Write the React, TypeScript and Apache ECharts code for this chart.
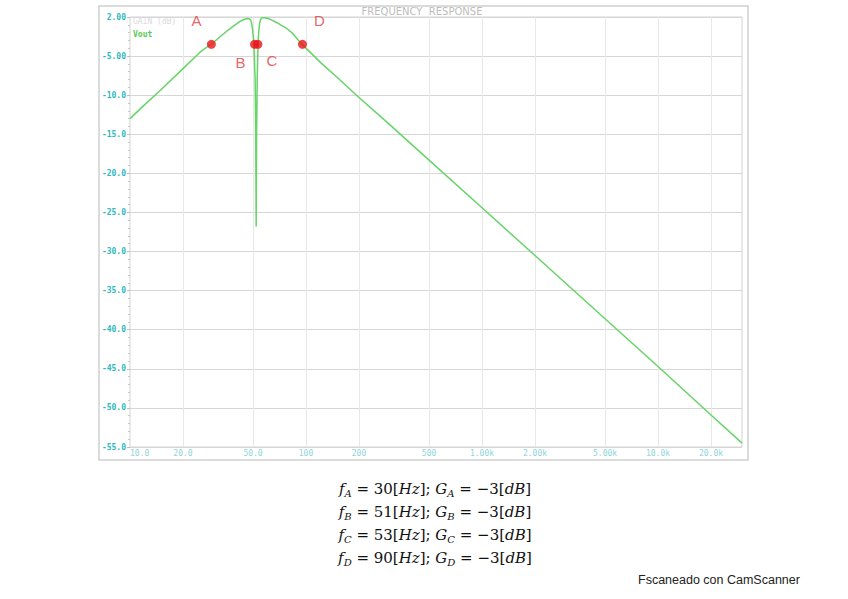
import React, { useEffect, useRef } from "react";
import * as echarts from "echarts";

// ---- data ----
const freqHz = [10, 12, 15, 20, 25, 30, 33, 36, 39, 42, 44, 46, 47.5, 48.5, 49.2, 49.8, 50.6, 51.4, 51.8, 52.1, 52.4, 52.8, 53.4, 53.9, 54.5, 55.2, 56.5, 58.5, 61, 64, 68, 73, 78, 84, 90, 95, 122, 150, 200, 300, 500, 1000, 2000, 5000, 10000, 20000, 30000];
const gainDb = [-13.0, -11.3, -9.3, -6.6, -4.5, -3.2, -2.4, -1.7, -1.1, -0.6, -0.35, -0.2, -0.22, -0.4, -0.9, -1.8, -3.5, -8, -15, -26.8, -15, -8, -3.5, -1.8, -0.8, -0.3, -0.1, -0.1, -0.2, -0.4, -0.7, -1.1, -1.5, -2.1, -2.9, -3.5, -5.9, -7.7, -10.3, -13.8, -18.3, -24.4, -30.5, -38.6, -44.7, -50.9, -54.5];

const markerNames = ["A", "B", "C", "D"];
const markerFreqHz = [29, 51, 53.3, 95.5];
const markerGainDb = [-3.5, -3.5, -3.5, -3.5];

const yTickValues = [-55, -50, -45, -40, -35, -30, -25, -20, -15, -10, -5, 0];
const yTickLabels = ["-55.0", "-50.0", "-45.0", "-40.0", "-35.0", "-30.0", "-25.0", "-20.0", "-15.0", "-10.0", "-5.00", "2.00"];

const xMinLabel = "10.0";
const xGridFreqs = [20, 50, 100, 200, 500, 1000, 2000, 5000, 10000, 20000];
const xGridLabels = ["20.0", "50.0", "100", "200", "500", "1.00k", "2.00k", "5.00k", "10.0k", "20.0k"];

const formulaSubs = ["A", "B", "C", "D"];
const formulaFreqs = ["30", "51", "53", "90"];
const formulaGains = ["−3", "−3", "−3", "−3"];

const chartTitle = "FREQUENCY  RESPONSE";
const yAxisName = "GAIN (dB)";
const seriesName = "Vout";
const footer = "Fscaneado con CamScanner";

// style-only offsets for the marker letters
const letterOffsets = [[-15, -24], [-14, 18], [14, 16], [17, -24]];

export default function App() {
  const ref = useRef<HTMLDivElement>(null);
  useEffect(() => {
    if (!ref.current) return;
    const chart = echarts.init(ref.current, undefined, { renderer: "svg" });
    const mono = "DejaVu Sans Mono";
    const serif = "DejaVu Serif";
    const rich = {
      v: { fontFamily: serif, fontStyle: "italic", fontSize: 15, fill: "#111", color: "#111" },
      s: { fontFamily: serif, fontStyle: "italic", fontSize: 10, fill: "#111", color: "#111", verticalAlign: "bottom", lineHeight: 19 },
      n: { fontFamily: serif, fontSize: 15, fill: "#111", color: "#111" },
    };
    const formulaTexts = formulaSubs.map((s, i) => ({
      type: "text",
      x: 435,
      y: 489 + i * 23,
      style: {
        text: `{v|f}{s|${s}}{n| = ${formulaFreqs[i]}[}{v|Hz}{n|]; }{v|G}{s|${s}}{n| = ${formulaGains[i]}[}{v|dB}{n|]}`,
        rich,
        textAlign: "center",
        textVerticalAlign: "middle",
      },
    }));

    chart.setOption({
      animation: false,
      backgroundColor: "#ffffff",
      grid: { left: 130, right: 106, top: 17, bottom: 152, show: true, borderColor: "#d2d2d2", borderWidth: 1 },
      xAxis: {
        type: "log",
        logBase: 10,
        min: 10,
        max: 30000,
        splitLine: { show: false },
        axisTick: { show: false },
        axisLine: { show: false },
        axisLabel: {
          formatter: (v: number) => (Math.abs(v - 10) < 1e-6 ? xMinLabel : ""),
          color: "#8fd5d8",
          fontSize: 8,
          fontFamily: mono,
          margin: 2,
          alignMinLabel: "left",
          showMaxLabel: false,
        },
      },
      yAxis: {
        type: "value",
        min: -55,
        max: 0,
        interval: 5,
        axisLine: { show: false },
        axisTick: { show: true, length: 3, lineStyle: { color: "#bdbdbd" } },
        minorTick: { show: true, splitNumber: 5, length: 2, lineStyle: { color: "#c8c8c8" } },
        splitLine: { show: true, lineStyle: { color: "#d6d6d6", width: 1 } },
        axisLabel: {
          formatter: (v: number) => {
            const k = yTickValues.indexOf(v);
            return k >= 0 ? yTickLabels[k] : "";
          },
          color: "#2fb9bd",
          fontSize: 8,
          fontFamily: mono,
          fontWeight: "bold",
          margin: 4,
        },
      },
      series: [
        {
          name: seriesName,
          type: "line",
          data: freqHz.map((f, i) => [f, gainDb[i]]),
          showSymbol: false,
          symbol: "none",
          lineStyle: { color: "#66d466", width: 1.5 },
          z: 3,
          markLine: {
            silent: true,
            symbol: ["none", "none"],
            lineStyle: { color: "#e8e8e8", type: "solid", width: 1 },
            label: { position: "start", distance: 2, color: "#8fd5d8", fontSize: 8, fontFamily: mono },
            data: xGridFreqs.map((f, i) => ({ xAxis: f, label: { formatter: xGridLabels[i] } })),
            z: 1,
          },
        },
        {
          name: "markers",
          type: "scatter",
          data: markerNames.map((n, i) => ({
            name: n,
            value: [markerFreqHz[i], markerGainDb[i]],
            label: { offset: letterOffsets[i] },
          })),
          symbolSize: 9,
          itemStyle: { color: "#e8141a" },
          label: {
            show: true,
            formatter: "{b}",
            position: "inside",
            color: "#e03c3c",
            fontSize: 15,
            fontFamily: "Liberation Sans",
          },
          z: 5,
        },
      ],
      graphic: [
        { type: "rect", shape: { x: 99, y: 6, width: 649, height: 454 }, style: { fill: "none", stroke: "#cfcfcf", lineWidth: 1.5 }, silent: true },
        { type: "text", x: 422, y: 11, style: { text: chartTitle, fill: "#bdbdbd", font: "10px 'DejaVu Sans'", textAlign: "center", textVerticalAlign: "middle" } },
        { type: "text", x: 133, y: 21, style: { text: yAxisName, fill: "#dadada", font: "8px 'DejaVu Sans Mono'", textAlign: "left", textVerticalAlign: "middle" } },
        { type: "text", x: 133, y: 34, style: { text: seriesName, fill: "#55cc55", font: "bold 8px 'DejaVu Sans Mono'", textAlign: "left", textVerticalAlign: "middle" } },
        ...formulaTexts,
        { type: "text", x: 638, y: 580, style: { text: footer, fill: "#222", font: "12.5px 'Liberation Sans'", textAlign: "left", textVerticalAlign: "middle" } },
      ],
    });
    return () => chart.dispose();
  }, []);
  return <div ref={ref} style={{ position: "fixed", left: 0, top: 0, width: 848, height: 599 }} />;
}
